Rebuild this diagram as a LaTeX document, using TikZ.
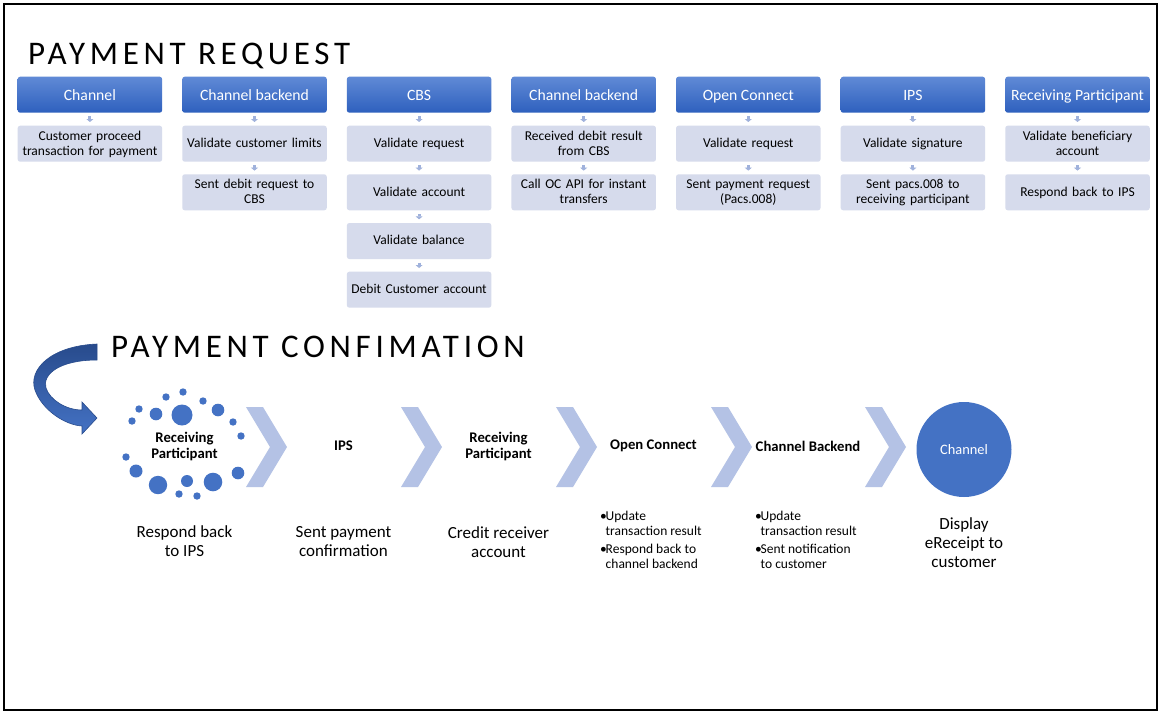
\documentclass[tikz,border=0pt]{standalone}
\usepackage{fontspec}
\setmainfont{Carlito}
\usetikzlibrary{arrows.meta}
\definecolor{hdtop}{RGB}{96,138,214}
\definecolor{hdbot}{RGB}{46,96,190}
\definecolor{subfill}{RGB}{214,219,236}
\definecolor{chev}{RGB}{180,194,229}
\definecolor{dotc}{RGB}{68,114,196}
\definecolor{smallarr}{RGB}{160,178,220}
\definecolor{arrdark}{RGB}{40,75,140}
\newcommand{\topstrut}{\rule{0pt}{11.3pt}}
\newcommand{\botstrut}{\rule[-3.4pt]{0pt}{3.4pt}}
\begin{document}
\begin{tikzpicture}[x=1pt,y=-1pt,
 hdr/.style={rounded corners=2.5pt, minimum width=144.5pt, minimum height=36pt, top color=hdtop, bottom color=hdbot, text=white, font=\fontsize{15.7}{18}\selectfont, inner sep=0pt, text height=13pt, text depth=2.4pt},
 sub/.style={rounded corners=2.5pt, fill=subfill, minimum width=144.5pt, minimum height=36pt, text width=142pt, align=center, font=\fontsize{13.5}{14.7}\selectfont, inner sep=0pt, execute at begin node=\topstrut, execute at end node=\botstrut},
 tinyarr/.style={draw=smallarr, line width=3pt, -{Triangle[width=7pt,length=3pt]}, shorten <=3.5pt, shorten >=3.5pt},
 title/.style={anchor=base west, inner sep=0pt, font=\fontsize{33}{33}\selectfont\addfontfeatures{LetterSpace=14.4}},
 dot/.style={fill=dotc},
 chevshape/.style={fill=chev},
 stage/.style={font=\bfseries\fontsize{14.7}{16.5}\selectfont, align=center, inner sep=0pt},
 desc/.style={font=\fontsize{17}{19}\selectfont, align=center, inner sep=0pt},
 bullets/.style={font=\fontsize{13.5}{14.7}\selectfont, align=left, inner sep=0pt, anchor=west}
]
\useasboundingbox (0,0) rectangle (1163,713);
\fill[white] (0,0) rectangle (1163,713);
\draw[line width=2.5pt] (4,4) rectangle (1157,710);

% ---------- PAYMENT REQUEST ----------
\node[title] (t1) at (28,64) {PAYMENT REQUEST};

\node[hdr] (h1) at (89.9,94.7) {Channel};
\node[hdr] (h2) at (254.5,94.7) {Channel backend};
\node[hdr] (h3) at (419.1,94.7) {CBS};
\node[hdr] (h4) at (583.7,94.7) {Channel backend};
\node[hdr] (h5) at (748.3,94.7) {Open Connect};
\node[hdr] (h6) at (912.9,94.7) {IPS};
\node[hdr] (h7) at (1077.5,94.7) {Receiving Participant};

\node[sub] (s11) at (89.9,143.7) {Customer proceed\\transaction for payment};

\node[sub] (s21) at (254.5,143.7) {Validate customer limits};
\node[sub] (s22) at (254.5,192.3) {Sent debit request to\\CBS};

\node[sub] (s31) at (419.1,143.7) {Validate request};
\node[sub] (s32) at (419.1,192.3) {Validate account};
\node[sub] (s33) at (419.1,241) {Validate balance};
\node[sub] (s34) at (419.1,289.7) {Debit Customer account};

\node[sub] (s41) at (583.7,143.7) {Received debit result\\from CBS};
\node[sub] (s42) at (583.7,192.3) {Call OC API for instant\\transfers};

\node[sub] (s51) at (748.3,143.7) {Validate request};
\node[sub] (s52) at (748.3,192.3) {Sent payment request\\(Pacs.008)};

\node[sub] (s61) at (912.9,143.7) {Validate signature};
\node[sub] (s62) at (912.9,192.3) {Sent pacs.008 to\\receiving participant};

\node[sub] (s71) at (1077.5,143.7) {Validate beneficiary\\account};
\node[sub] (s72) at (1077.5,192.3) {Respond back to IPS};

\draw[tinyarr] (h1) -- (s11);
\draw[tinyarr] (h2) -- (s21);
\draw[tinyarr] (s21) -- (s22);
\draw[tinyarr] (h3) -- (s31);
\draw[tinyarr] (s31) -- (s32);
\draw[tinyarr] (s32) -- (s33);
\draw[tinyarr] (s33) -- (s34);
\draw[tinyarr] (h4) -- (s41);
\draw[tinyarr] (s41) -- (s42);
\draw[tinyarr] (h5) -- (s51);
\draw[tinyarr] (s51) -- (s52);
\draw[tinyarr] (h6) -- (s61);
\draw[tinyarr] (s61) -- (s62);
\draw[tinyarr] (h7) -- (s71);
\draw[tinyarr] (s71) -- (s72);

% ---------- PAYMENT CONFIMATION ----------
\node[title] (t2) at (111,357) {PAYMENT CONFIMATION};

% curved arrow
\shade[top color=arrdark, bottom color=dotc, draw=arrdark, line width=0.6pt]
 (97,344) .. controls (50,346) and (28,370) .. (35,390)
 .. controls (42,410) and (65,425) .. (82,426)
 -- (82,434) -- (97,418) -- (82,402) -- (82,410)
 .. controls (66,410) and (50,400) .. (46,388)
 .. controls (42,374) and (60,360) .. (97,360) -- cycle;

% dotted ring
\foreach \x/\y/\r in {183/392/3.7, 166/397/3.7, 203/401/3.7, 139/409/3.7,
  156/414/6.3, 182/415/10.5, 218/410/6.3, 132/421/3.7, 233/422/3.7,
  241/436/3.7, 126/457/3.7, 136/471/6.5, 158/485/9.2, 187/481/6,
  213/482/9.3, 238/473/6.3, 179/494/3.7, 197/496/3.7}
  \fill[dot] (\x,\y) circle (\r);
\node[stage] (c0) at (184.5,446.7) {Receiving\\Participant};

% chevrons
\foreach \L in {246,401,556,711,865}
  \fill[chevshape] (\L,407) -- (\L+17,407) -- (\L+41,447) -- (\L+17,487) -- (\L,487) -- (\L+24,447) -- cycle;

\node[stage] (c1) at (343.5,446) {IPS};
\node[stage] (c2) at (498.5,446.5) {Receiving\\Participant};
\node[stage] (c3) at (653.5,446) {Open Connect};
\node[stage] (c4) at (808,446) {Channel Backend};
\node[circle, fill=dotc, minimum size=95pt, inner sep=0pt, text=white, font=\fontsize{14.4}{16}\selectfont] (ch) at (964,449.5) {Channel};

% descriptions
\node[desc] (d0) at (184.5,541.5) {Respond back\\to IPS};
\node[desc] (d1) at (343.5,542) {Sent payment\\confirmation};
\node[desc] (d2) at (498.5,542) {Credit receiver\\account};
\node[bullets] (d3) at (600,539.7) {\makebox[5.5pt][l]{•}Update\\\hspace*{5.5pt}transaction result\\[3.6pt]\makebox[5.5pt][l]{•}Respond back to\\\hspace*{5.5pt}channel backend};
\node[bullets] (d4) at (755,539.7) {\makebox[5.5pt][l]{•}Update\\\hspace*{5.5pt}transaction result\\[3.6pt]\makebox[5.5pt][l]{•}Sent notification\\\hspace*{5.5pt}to customer};
\node[desc] (d5) at (964,542.3) {Display\\eReceipt to\\customer};
\end{tikzpicture}
\end{document}
